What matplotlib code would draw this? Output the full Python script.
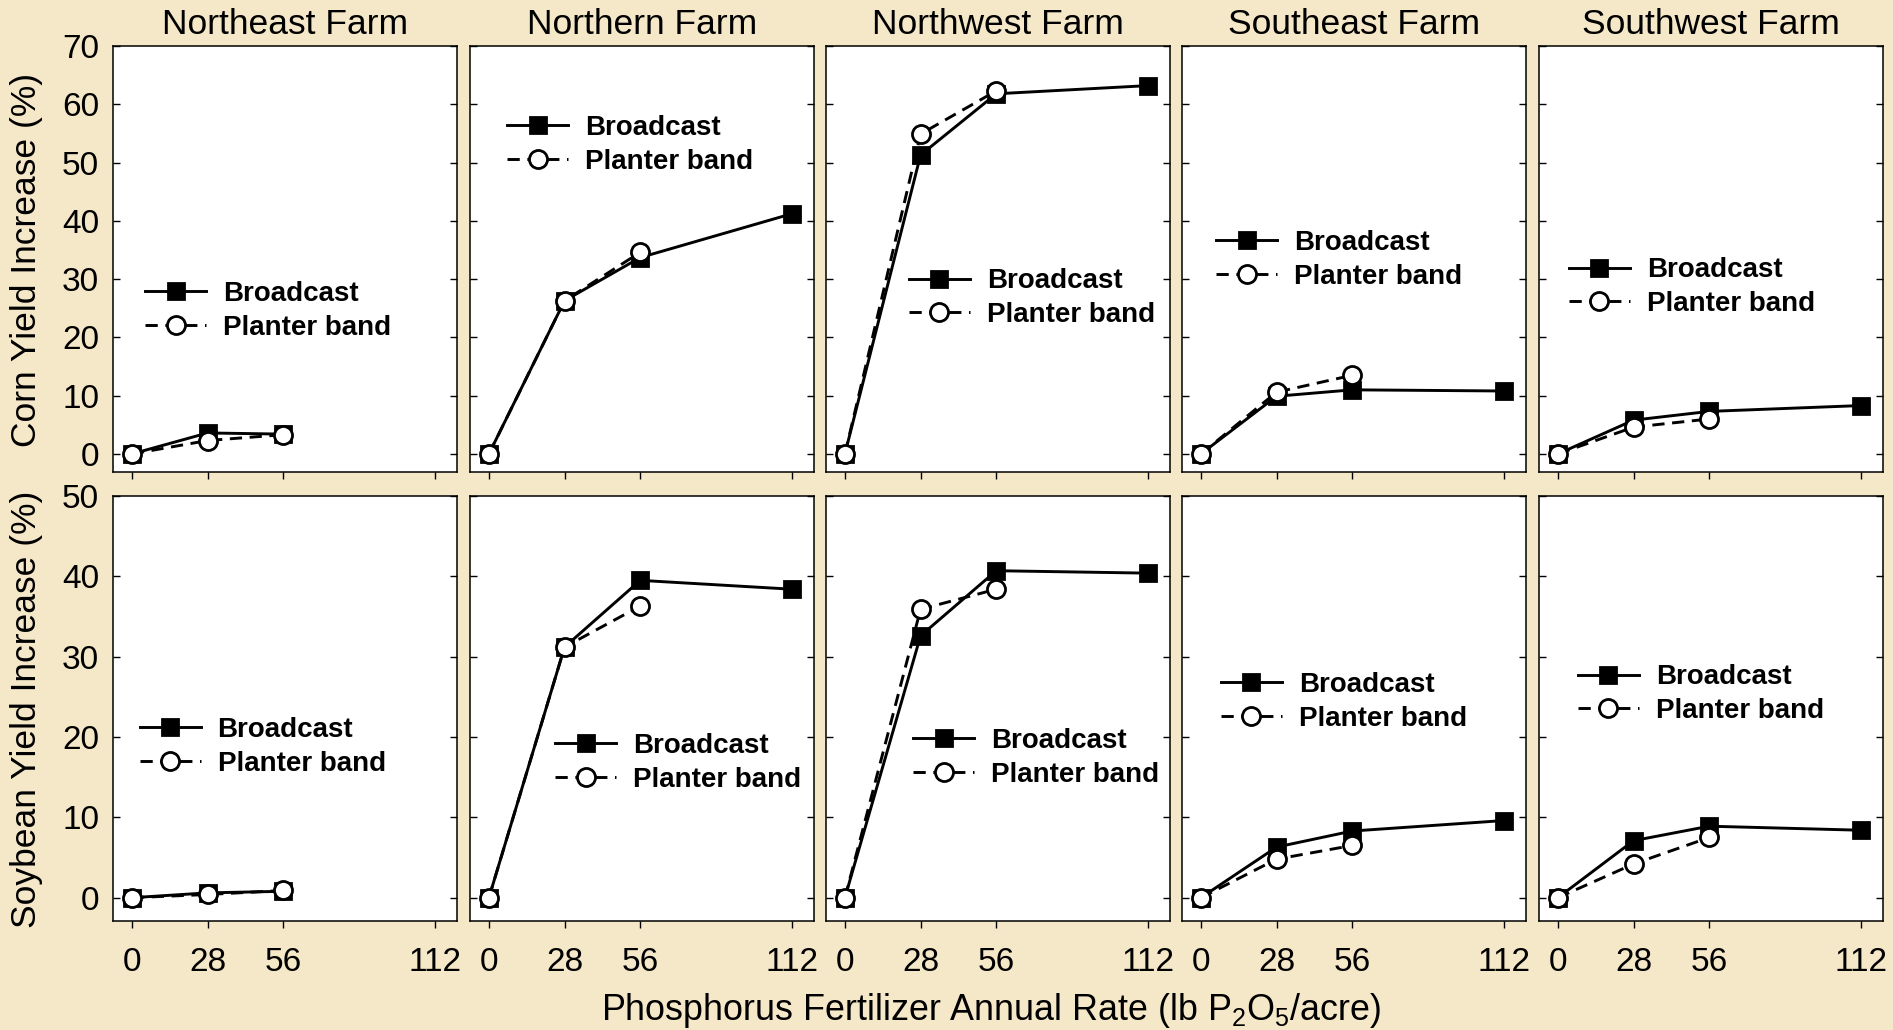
import matplotlib
matplotlib.use("Agg")
import matplotlib.pyplot as plt

plt.rcParams['font.family'] = ['Liberation Sans', 'DejaVu Sans']
plt.rcParams['mathtext.fontset'] = 'custom'
plt.rcParams['mathtext.rm'] = 'Liberation Sans'
plt.rcParams['mathtext.it'] = 'Liberation Sans:italic'

# ---------------- data ----------------
farms = ["Northeast Farm", "Northern Farm", "Northwest Farm", "Southeast Farm", "Southwest Farm"]
rates_full = [0, 28, 56, 112]
rates_ne = [0, 28, 56]
band_rates = [0, 28, 56]
x_ticks = [0, 28, 56, 112]

corn_broadcast = [
    [0, 3.6, 3.4],
    [0, 26.3, 33.7, 41.2],
    [0, 51.3, 61.8, 63.2],
    [0, 9.9, 11.0, 10.8],
    [0, 5.8, 7.3, 8.3],
]
corn_band = [
    [0, 2.3, 3.3],
    [0, 26.3, 34.6],
    [0, 54.9, 62.3],
    [0, 10.6, 13.5],
    [0, 4.6, 6.0],
]
soy_broadcast = [
    [0, 0.6, 0.8],
    [0, 31.2, 39.5, 38.4],
    [0, 32.6, 40.7, 40.4],
    [0, 6.3, 8.3, 9.6],
    [0, 7.1, 8.9, 8.4],
]
soy_band = [
    [0, 0.4, 0.9],
    [0, 31.2, 36.3],
    [0, 35.9, 38.4],
    [0, 4.8, 6.5],
    [0, 4.2, 7.5],
]
corn_yticks = [0, 10, 20, 30, 40, 50, 60, 70]
soy_yticks = [0, 10, 20, 30, 40, 50]

# legend anchors (axes fraction, upper-left)
corn_leg = [(0.093, 0.448), (0.108, 0.838), (0.241, 0.478), (0.099, 0.568), (0.087, 0.504)]
soy_leg = [(0.078, 0.48), (0.247, 0.442), (0.253, 0.454), (0.113, 0.586), (0.113, 0.604)]

W, H = 1893, 1030
fig = plt.figure(figsize=(W / 100, H / 100), dpi=100)
fig.patch.set_facecolor('#F5E8C8')

panel_x = [113, 470, 826, 1182, 1539]
panel_w = 344
rows = [(46, 472), (496, 921)]

lw = 2.1
mew = 2.0
dash = (0, (4.2, 2.6))


def draw(ax, xb, yb, yband, ylim, yticks, leg, first, bottom):
    ax.set_facecolor('white')
    ax.plot(xb, yb, color='black', lw=lw, marker='s', ms=11, mfc='black',
            mec='black', mew=mew, label='Broadcast', zorder=3)
    ax.plot(band_rates, yband, color='black', lw=lw, ls=dash, marker='o', ms=13,
            mfc='white', mec='black', mew=mew, label='Planter band', zorder=4)
    ax.set_xlim(-7, 120.3)
    ax.set_ylim(*ylim)
    ax.set_xticks(x_ticks)
    ax.set_yticks(yticks)
    ax.tick_params(axis='y', direction='in', length=5, width=1.0, left=True, right=True,
                   labelleft=first, labelsize=24, pad=10)
    ax.tick_params(axis='x', direction='out', length=5, width=1.0, top=False,
                   labelbottom=bottom, labelsize=24, pad=13.5)
    for s in ax.spines.values():
        s.set_linewidth(1.1)
    ax.legend(loc='upper left', bbox_to_anchor=leg, frameon=False,
              prop={'weight': 'bold', 'size': 20}, handlelength=2.2,
              handletextpad=0.6, labelspacing=0.28, borderpad=0,
              borderaxespad=0, numpoints=1)


for r, (y0, y1) in enumerate(rows):
    for i in range(5):
        ax = fig.add_axes([panel_x[i] / W, 1 - y1 / H, panel_w / W, (y1 - y0) / H])
        xb = rates_ne if i == 0 else rates_full
        if r == 0:
            draw(ax, xb, corn_broadcast[i], corn_band[i], (-3.1, 70), corn_yticks,
                 corn_leg[i], i == 0, False)
        else:
            draw(ax, xb, soy_broadcast[i], soy_band[i], (-2.9, 50), soy_yticks,
                 soy_leg[i], i == 0, True)

for i, name in enumerate(farms):
    fig.text((panel_x[i] + panel_w / 2) / W, 1 - 24 / H, name, ha='center', va='center',
             fontsize=25.5)

fig.text(27 / W, 1 - 260 / H, 'Corn Yield Increase (%)', rotation=90, ha='center',
         va='center', fontsize=25.5)
fig.text(27 / W, 1 - 709 / H, 'Soybean Yield Increase (%)', rotation=90, ha='center',
         va='center', fontsize=25.5)
fig.text(991 / W, 1 - 1010 / H, r'Phosphorus Fertilizer Annual Rate (lb P$_2$O$_5$/acre)',
         ha='center', va='center', fontsize=25.8)

fig.savefig('out.png', dpi=100, facecolor=fig.get_facecolor())
